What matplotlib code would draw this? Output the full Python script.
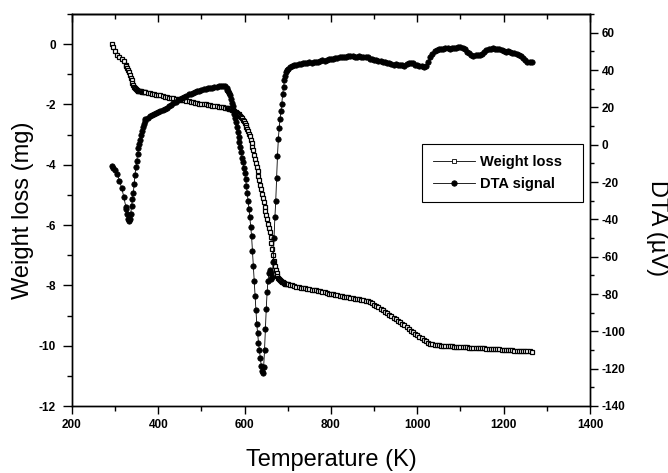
"""TG / DTA curves: weight loss and DTA signal against temperature."""

import matplotlib
matplotlib.use("Agg")
import matplotlib.pyplot as plt
from matplotlib.ticker import MultipleLocator

# --- Data: temperature (K), weight loss (mg), DTA signal (uV) ---
temp_k = [
    292, 296, 300, 305, 310, 315, 320, 325,
    326, 328, 330, 332, 334, 336, 338, 340, 342, 344,
    346, 348, 350, 352, 354, 356, 358, 360, 362, 364,
    366, 368, 370,
    375, 380, 385, 390, 395, 400, 405, 410, 415, 420,
    425, 430, 435, 440, 445, 450, 455, 460, 465, 470,
    475, 480, 485, 490, 495, 500, 505, 510, 515, 520,
    525, 530, 535, 540, 545, 550, 555,
    558, 560, 562, 564, 566, 568, 570, 572, 574, 576,
    578, 580, 582, 584, 586, 588, 590, 592, 594, 596,
    598, 600, 602, 604, 606, 608, 610, 612, 614, 616,
    618, 620, 622, 624, 626, 628, 630, 632, 634, 636,
    638, 640, 642, 644, 646, 648, 650, 652, 654, 656,
    658, 660, 662, 664, 666, 668, 670, 672, 674, 676,
    678, 680, 682, 684, 686, 688, 690, 692, 694, 696,
    698, 700,
    705, 710, 715, 720, 725, 730, 735, 740, 745, 750,
    755, 760, 765, 770, 775, 780, 785, 790, 795, 800,
    805, 810, 815, 820, 825, 830, 835, 840, 845, 850,
    855, 860, 865, 870, 875, 880, 885, 890, 895, 900,
    905, 910, 915, 920, 925, 930, 935, 940, 945, 950,
    955, 960, 965, 970, 975, 980, 985, 990, 995, 1000,
    1005, 1010, 1015, 1020, 1025, 1030, 1035, 1040, 1045, 1050,
    1055, 1060, 1065, 1070, 1075, 1080, 1085, 1090, 1095, 1100,
    1105, 1110, 1115, 1120, 1125, 1130, 1135, 1140, 1145, 1150,
    1155, 1160, 1165, 1170, 1175, 1180, 1185, 1190, 1195, 1200,
    1205, 1210, 1215, 1220, 1225, 1230, 1235, 1240, 1245, 1250,
    1255, 1260, 1265,
]

weight_mg = [
    0.0, -0.1, -0.22, -0.35, -0.42, -0.48, -0.56, -0.70,
    -0.73, -0.79, -0.85, -0.92, -1.01, -1.11, -1.20, -1.28, -1.35, -1.41,
    -1.45, -1.49, -1.52, -1.54, -1.55, -1.56, -1.57, -1.57, -1.58, -1.59,
    -1.59, -1.60, -1.60,
    -1.62, -1.63, -1.65, -1.66, -1.67, -1.69, -1.70, -1.72, -1.74, -1.75,
    -1.77, -1.78, -1.79, -1.81, -1.82, -1.84, -1.85, -1.86, -1.88, -1.89,
    -1.91, -1.92, -1.94, -1.95, -1.97, -1.98, -1.99, -2.00, -2.01, -2.03,
    -2.04, -2.05, -2.06, -2.07, -2.08, -2.10, -2.11,
    -2.12, -2.13, -2.13, -2.14, -2.14, -2.15, -2.17, -2.18, -2.20, -2.22,
    -2.24, -2.26, -2.28, -2.30, -2.33, -2.35, -2.38, -2.42, -2.46, -2.51,
    -2.56, -2.61, -2.68, -2.75, -2.82, -2.89, -2.97, -3.06, -3.17, -3.29,
    -3.40, -3.52, -3.66, -3.80, -3.94, -4.07, -4.22, -4.36, -4.51, -4.66,
    -4.81, -4.96, -5.11, -5.25, -5.39, -5.53, -5.67, -5.81, -5.95, -6.09,
    -6.23, -6.38, -6.60, -6.80, -7.00, -7.18, -7.35, -7.49, -7.60, -7.68,
    -7.75, -7.80, -7.83, -7.86, -7.88, -7.90, -7.92, -7.93, -7.94, -7.95,
    -7.96, -7.97,
    -7.98, -8.00, -8.02, -8.04, -8.06, -8.08, -8.09, -8.10, -8.11, -8.13,
    -8.14, -8.15, -8.16, -8.17, -8.19, -8.21, -8.23, -8.25, -8.27, -8.29,
    -8.30, -8.31, -8.33, -8.34, -8.35, -8.37, -8.38, -8.40, -8.41, -8.42,
    -8.44, -8.45, -8.46, -8.48, -8.50, -8.51, -8.53, -8.56, -8.60, -8.64,
    -8.68, -8.73, -8.78, -8.83, -8.88, -8.93, -8.98, -9.03, -9.08, -9.12,
    -9.17, -9.22, -9.27, -9.33, -9.38, -9.44, -9.50, -9.55, -9.60, -9.65,
    -9.70, -9.76, -9.81, -9.86, -9.90, -9.93, -9.95, -9.97, -9.98, -9.99,
    -10.00, -10.01, -10.01, -10.02, -10.02, -10.02, -10.03, -10.03, -10.04, -10.04,
    -10.04, -10.05, -10.05, -10.06, -10.06, -10.07, -10.07, -10.08, -10.08, -10.09,
    -10.09, -10.10, -10.10, -10.11, -10.11, -10.12, -10.12, -10.12, -10.13, -10.13,
    -10.14, -10.14, -10.15, -10.15, -10.16, -10.16, -10.17, -10.17, -10.18, -10.18,
    -10.19, -10.19, -10.20,
]

dta_uv = [
    -11.5, -12.5, -13.5, -15.5, -19.5, -23.0, -28.0, -33.5,
    -34.5, -37.0, -40.0, -41.0, -40.0, -37.0, -33.0, -29.0, -26.0, -21.0,
    -16.0, -12.0, -8.8, -5.0, -2.0, 0.5, 2.5, 5.0, 7.5, 9.5,
    11.0, 12.5, 13.5,
    14.5, 15.2, 15.9, 16.5, 17.0, 17.6, 18.1, 18.6, 19.2, 19.8,
    20.5, 21.3, 22.1, 23.0, 23.8, 24.5, 25.1, 25.7, 26.3, 26.9,
    27.4, 27.8, 28.2, 28.6, 29.0, 29.3, 29.6, 29.9, 30.2, 30.4,
    30.6, 30.8, 31.0, 31.2, 31.4, 31.5, 31.2,
    30.5, 29.5, 28.5, 27.5, 26.5, 24.5, 22.5, 20.5, 18.5, 16.5,
    14.5, 12.0, 9.5, 7.0, 4.0, 1.5, -1.2, -4.0, -7.0, -9.5,
    -12.5, -15.0, -18.5, -22.0, -26.0, -30.0, -34.5, -39.0, -44.0, -49.0,
    -57.0, -65.0, -73.0, -81.0, -88.5, -96.0, -101.0, -106.0, -110.0, -114.5,
    -118.5, -121.5, -122.5, -119.0, -110.0, -99.0, -88.0, -79.0, -73.0, -69.0,
    -67.0, -69.0, -72.0, -71.0, -63.0, -50.0, -39.0, -30.0, -18.0, -6.0,
    3.0, 9.0, 14.0, 18.0, 22.0, 27.0, 31.0, 34.5, 37.0, 39.0,
    40.0, 40.7,
    41.5, 42.2, 42.7, 42.9, 43.2, 43.3, 43.5, 43.7, 43.8, 44.1,
    44.0, 44.3, 44.5, 44.4, 44.9, 45.2, 45.0, 45.5, 45.7, 45.9,
    46.1, 46.3, 46.2, 46.7, 46.9, 46.8, 47.2, 47.4, 47.5, 47.3,
    47.0, 47.2, 47.4, 47.1, 46.9, 47.0, 46.7, 46.1, 45.7, 45.5,
    45.2, 44.9, 44.7, 44.5, 44.2, 44.0, 43.5, 43.2, 42.9, 43.2,
    42.8, 42.5, 42.7, 42.4, 43.0, 43.7, 44.0, 43.5, 42.9, 42.7,
    42.3, 42.0, 41.7, 42.2, 44.2, 46.7, 48.7, 50.0, 50.7, 51.1,
    51.5, 51.2, 51.6, 51.9, 51.5, 51.7, 52.0, 51.7, 52.2, 52.5,
    51.9, 51.0, 49.9, 48.9, 48.1, 47.7, 47.9, 48.1, 48.3, 48.7,
    49.5, 50.5, 51.2, 51.5, 51.6, 51.3, 51.5, 51.2, 50.9, 50.3,
    49.9, 50.1, 49.6, 49.3, 49.2, 48.8, 48.2, 47.5, 46.5, 45.5,
    44.5, 44.1, 44.4,
]

series_labels = ["Weight loss", "DTA signal"]

plt.rcParams["font.family"] = "Liberation Sans"
plt.rcParams["font.weight"] = "bold"
plt.rcParams["axes.unicode_minus"] = False
plt.rcParams["axes.linewidth"] = 1.0

fig = plt.figure(figsize=(6.68, 4.73), dpi=100)
ax = fig.add_axes([72 / 668, 67 / 473, 518 / 668, 392 / 473])
ax2 = ax.twinx()

l1, = ax.plot(temp_k, weight_mg, "-", color="black", lw=0.6,
              marker="s", ms=3.3, mfc="white", mec="black", mew=0.9,
              label=series_labels[0])
l2, = ax2.plot(temp_k, dta_uv, "-", color="black", lw=0.6,
               marker="o", ms=3.9, mfc="black", mec="black", mew=0.5,
               label=series_labels[1])

ax.set_xlim(200, 1400)
ax.set_ylim(-12, 1)
ax2.set_ylim(-140, 70)

ax.xaxis.set_major_locator(MultipleLocator(200))
ax.xaxis.set_minor_locator(MultipleLocator(100))
ax.yaxis.set_major_locator(MultipleLocator(2))
ax.yaxis.set_minor_locator(MultipleLocator(1))
ax2.yaxis.set_major_locator(MultipleLocator(20))
ax2.yaxis.set_minor_locator(MultipleLocator(10))

ax.tick_params(axis="x", which="major", direction="out", length=6, width=1,
               pad=3, labelsize=8.5, top=False)
ax.tick_params(axis="x", which="minor", direction="out", length=3.5, width=1, top=False)
ax.tick_params(axis="y", which="major", direction="out", length=6.5, width=1,
               pad=5, labelsize=8.5)
ax.tick_params(axis="y", which="minor", direction="out", length=3.5, width=1)
ax2.tick_params(axis="y", which="major", direction="out", length=5.5, width=1,
                pad=3, labelsize=8.5)
ax2.tick_params(axis="y", which="minor", direction="out", length=3, width=1)

# top axis: inward ticks only, no labels
top = ax.secondary_xaxis("top")
top.xaxis.set_major_locator(MultipleLocator(200))
top.xaxis.set_minor_locator(MultipleLocator(100))
top.tick_params(which="major", direction="in", length=5.5, width=1, labeltop=False)
top.tick_params(which="minor", direction="in", length=3.5, width=1)

fig.text(331 / 668, 1 - 460 / 473, "Temperature (K)", ha="center", va="center",
         fontsize=17, fontweight="normal")
fig.text(23 / 668, 1 - 210 / 473, "Weight loss (mg)", ha="center", va="center",
         rotation=90, fontsize=17, fontweight="normal")
fig.text(657 / 668, 1 - 228 / 473, "DTA (\u00b5V)", ha="center", va="center",
         rotation=270, fontsize=17, fontweight="normal")

leg = ax2.legend([l1, l2], series_labels, loc="upper left",
                 bbox_to_anchor=(0.6757, 0.0, 0.3108, 0.6684), mode="expand",
                 borderaxespad=0, fancybox=False, edgecolor="black", framealpha=1,
                 prop={"weight": "bold", "size": 10.5}, handlelength=2.9,
                 handletextpad=0.3, labelspacing=0.55, borderpad=0.75)
leg.get_frame().set_linewidth(0.8)
for h in leg.legend_handles:
    h.set_markeredgewidth(0.6)

fig.savefig("out.png", dpi=100)
